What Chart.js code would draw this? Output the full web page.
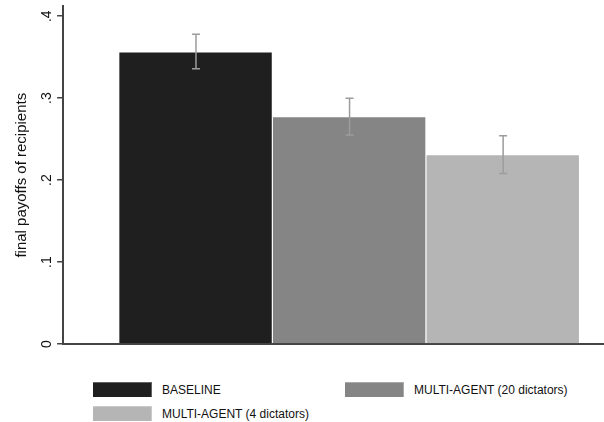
<!DOCTYPE html>
<html><head><meta charset="utf-8">
<script src="https://cdn.jsdelivr.net/npm/chart.js@4"></script>
<style>
html,body{margin:0;padding:0;background:#fff;}
#wrap{position:relative;width:604px;height:422px;overflow:hidden;font-family:"Liberation Sans",Arial,Helvetica,sans-serif;}
#c{position:absolute;left:0;top:-6px;}
.lg{position:absolute;display:flex;align-items:center;font-size:12px;color:#111;white-space:nowrap;height:15px;}
.sw{width:59px;height:15px;margin-right:10px;box-sizing:border-box;border-top:1px solid rgba(255,255,255,0.3);border-right:1px solid rgba(255,255,255,0.3);}
</style></head><body>
<div id="wrap"><canvas id="c" width="636" height="367"></canvas><div id="legend"></div></div>
<script>
// ---- data ----
const categories = ['BASELINE', 'MULTI-AGENT (20 dictators)', 'MULTI-AGENT (4 dictators)'];
const meanPayoffs = [0.357, 0.278, 0.2315];
const ciLower = [0.336, 0.255, 0.208];
const ciUpper = [0.378, 0.300, 0.254];
const yTicks = [0, 0.1, 0.2, 0.3, 0.4];
const yTickLabels = ['0', '.1', '.2', '.3', '.4'];
const yTitle = 'final payoffs of recipients';

// ---- styles ----
const barColors = ['#1f1f1f', '#858585', '#b5b5b5'];
const axisColor = '#444444';
const errColor = '#9c9c9c';
const FONT = '"Liberation Sans", Arial, Helvetica, sans-serif';

const errorBars = {
  id: 'errorBars',
  afterDatasetsDraw(chart) {
    const ctx = chart.ctx, y = chart.scales.y;
    ctx.save();
    ctx.strokeStyle = errColor;
    ctx.lineWidth = 1.5;
    chart.data.datasets.forEach((ds, i) => {
      const bar = chart.getDatasetMeta(i).data[0];
      const x = bar.x;
      const yl = y.getPixelForValue(ciLower[i]);
      const yu = y.getPixelForValue(ciUpper[i]);
      const cap = 4;
      ctx.beginPath();
      ctx.moveTo(x, yl); ctx.lineTo(x, yu);
      ctx.moveTo(x - cap, yl); ctx.lineTo(x + cap, yl);
      ctx.moveTo(x - cap, yu); ctx.lineTo(x + cap, yu);
      ctx.stroke();
    });
    ctx.restore();
  }
};

const chart = new Chart(document.getElementById('c'), {
  type: 'bar',
  data: {
    labels: [''],
    datasets: categories.map((name, i) => ({
      label: name,
      data: [meanPayoffs[i]],
      backgroundColor: barColors[i],
      borderColor: 'rgba(255,255,255,0.3)',
      borderWidth: { top: 1, right: 1, left: 0, bottom: 0 },
      borderSkipped: false,
      categoryPercentage: 460 / 572,
      barPercentage: 1
    }))
  },
  options: {
    responsive: false,
    animation: false,
    layout: { padding: { left: 12.6, top: 0, right: 0, bottom: 17 } },
    plugins: { legend: { display: false }, tooltip: { enabled: false } },
    scales: {
      x: {
        ticks: { display: false },
        grid: { display: false, drawTicks: false },
        border: { display: true, color: axisColor, width: 2 }
      },
      y: {
        min: 0,
        max: 0.412,
        afterBuildTicks: (s) => { s.ticks = yTicks.map(v => ({ value: v })); },
        ticks: {
          minRotation: 90, maxRotation: 90,
          crossAlign: 'center',
          padding: 4,
          color: '#111',
          font: { family: FONT, size: 14 },
          callback: (v, idx) => yTickLabels[idx]
        },
        grid: { drawOnChartArea: false, drawTicks: true, tickLength: 6, color: axisColor, lineWidth: 1.5 },
        border: { display: true, color: axisColor, width: 2 },
        title: {
          display: true, text: yTitle, color: '#111',
          font: { family: FONT, size: 15 },
          padding: { top: 0, bottom: 1.7 }
        }
      }
    }
  },
  plugins: [errorBars]
});

// ---- legend (from dataset labels/colours) ----
const lg = document.getElementById('legend');
chart.data.datasets.forEach((ds, i) => {
  const col = i % 2, row = Math.floor(i / 2);
  const item = document.createElement('div');
  item.className = 'lg';
  item.style.left = (93 + col * 252) + 'px';
  item.style.top = (382 + row * 24) + 'px';
  const sw = document.createElement('div');
  sw.className = 'sw';
  sw.style.background = ds.backgroundColor;
  const t = document.createElement('span');
  t.textContent = ds.label;
  item.appendChild(sw); item.appendChild(t);
  lg.appendChild(item);
});
</script>
</body></html>
